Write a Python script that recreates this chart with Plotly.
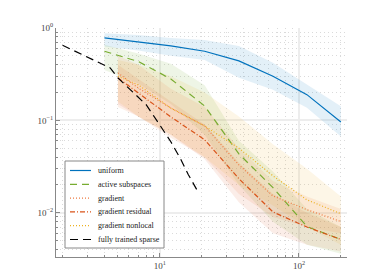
import plotly.graph_objects as go

# x grids
x_unif = [4, 7, 12, 21, 37, 65, 114, 200]
x_grad = [5, 7, 12, 21, 37, 65, 114, 200]
x_full = [2, 4.4, 5, 6, 8, 10, 12, 14, 16, 19]

# uniform
unif_mean = [0.78, 0.71, 0.64, 0.56, 0.44, 0.30, 0.19, 0.096]
unif_up = [0.88, 0.84, 0.78, 0.74, 0.64, 0.42, 0.245, 0.142]
unif_lo = [0.63, 0.57, 0.50, 0.45, 0.29, 0.215, 0.137, 0.067]

# active subspaces
as_mean = [0.56, 0.434, 0.281, 0.143, 0.0434, 0.0187, 0.0071, 0.00514]
as_up = [0.66, 0.53, 0.41, 0.24, 0.06, 0.028, 0.011, 0.0070]
as_lo = [0.35, 0.25, 0.15, 0.07, 0.02, 0.008, 0.0045, 0.0036]

# gradient
gr_mean = [0.326, 0.224, 0.136, 0.0872, 0.033, 0.0152, 0.0108, 0.00803]
gr_up = [0.50, 0.40, 0.22, 0.14, 0.05, 0.022, 0.015, 0.011]
gr_lo = [0.14, 0.11, 0.065, 0.04, 0.016, 0.009, 0.007, 0.006]

# gradient residual
gres_mean = [0.288, 0.198, 0.109, 0.0617, 0.0234, 0.0102, 0.0070, 0.00514]
gres_up = [0.40, 0.28, 0.16, 0.09, 0.035, 0.016, 0.010, 0.007]
gres_lo = [0.15, 0.11, 0.07, 0.038, 0.013, 0.006, 0.0045, 0.0038]

# gradient nonlocal
gnl_mean = [0.30, 0.242, 0.136, 0.087, 0.050, 0.0251, 0.0138, 0.00976]
gnl_up = [0.45, 0.40, 0.30, 0.20, 0.11, 0.055, 0.03, 0.015]
gnl_lo = [0.16, 0.11, 0.07, 0.04, 0.02, 0.012, 0.007, 0.0045]

# fully trained sparse
full_y = [0.65, 0.37, 0.288, 0.224, 0.147, 0.089, 0.0587, 0.039, 0.026, 0.0164]

# tick labels
x_tickvals = [10, 100]
x_ticktext = ["10<sup>1</sup>", "10<sup>2</sup>"]
y_tickvals = [1, 0.1, 0.01]
y_ticktext = ["10<sup>0</sup>", "10<sup>−1</sup>", "10<sup>−2</sup>"]
x_minor = [2, 3, 4, 5, 6, 7, 8, 9, 20, 30, 40, 50, 60, 70, 80, 90, 200]
y_minor = [0.004, 0.005, 0.006, 0.007, 0.008, 0.009,
           0.02, 0.03, 0.04, 0.05, 0.06, 0.07, 0.08, 0.09,
           0.2, 0.3, 0.4, 0.5, 0.6, 0.7, 0.8, 0.9]

series = [
    ("uniform", x_unif, unif_mean, unif_up, unif_lo, "#0072BD", "solid", "rgba(0,114,189,0.11)"),
    ("active subspaces", x_unif, as_mean, as_up, as_lo, "#77AC30", "7px,5px", "rgba(119,172,48,0.12)"),
    ("gradient", x_grad, gr_mean, gr_up, gr_lo, "#EE7A40", "1px,2px", "rgba(238,122,64,0.12)"),
    ("gradient residual", x_grad, gres_mean, gres_up, gres_lo, "#D95319", "5px,2px,1px,2px", "rgba(217,83,25,0.10)"),
    ("gradient nonlocal", x_grad, gnl_mean, gnl_up, gnl_lo, "#EDB120", "1px,2px", "rgba(237,177,32,0.11)"),
]
full_name = "fully trained sparse"
full_dash = "8px,5px"

fig = go.Figure()
for name, xs, m, up, lo, col, dash, fcol in series:
    fig.add_trace(go.Scatter(x=xs + xs[::-1], y=up + lo[::-1], fill="toself",
                             fillcolor=fcol, line=dict(width=0), mode="lines",
                             showlegend=False, hoverinfo="skip"))
for name, xs, m, up, lo, col, dash, fcol in series:
    fig.add_trace(go.Scatter(x=xs, y=m, mode="lines", name=name, showlegend=False,
                             line=dict(color=col, dash=dash, width=1.2)))
fig.add_trace(go.Scatter(x=x_full, y=full_y, mode="lines", name=full_name, showlegend=False,
                         line=dict(color="black", dash=full_dash, width=1.2)))

font = "Liberation Serif"
minor_common = dict(ticks="inside", ticklen=2, tickcolor="#888",
                    showgrid=True, gridcolor="#dadada", griddash="1px,3px", gridwidth=1)
axis_common = dict(type="log", showline=True, linecolor="#888", linewidth=1,
                   ticks="inside", ticklen=4, tickcolor="#888",
                   showgrid=True, gridcolor="#ededed", gridwidth=1.5,
                   zeroline=False, tickmode="array",
                   tickfont=dict(family=font, size=9, color="#444"))
fig.update_xaxes(range=[0.254, 2.345], tickvals=x_tickvals, ticktext=x_ticktext,
                 minor=dict(tickmode="array", tickvals=x_minor, **minor_common), **axis_common)
fig.update_yaxes(range=[-2.479, 0.0], tickvals=y_tickvals, ticktext=y_ticktext,
                 minor=dict(tickmode="array", tickvals=y_minor, **minor_common), **axis_common)

# custom compact legend (paper coordinates derived from pixel layout)
L, R, T, B = 48, 35, 20, 31
W, H = 374 - L - R, 280 - T - B
def px(x):
    return (x - L) / W
def py(y):
    return (280 - B - y) / H

shapes = [dict(type="rect", xref="paper", yref="paper",
               x0=px(57), x1=px(156), y0=py(240), y1=py(153),
               line=dict(color="#888", width=1), fillcolor="white", layer="above")]
annotations = []
legend_items = [(s[0], s[5], s[6]) for s in series] + [(full_name, "black", full_dash)]
for i, (name, col, dash) in enumerate(legend_items):
    yc = 162.5 + i * 13.8
    shapes.append(dict(type="line", xref="paper", yref="paper",
                       x0=px(62), x1=px(83), y0=py(yc), y1=py(yc),
                       line=dict(color=col, dash=dash, width=1.2), layer="above"))
    annotations.append(dict(xref="paper", yref="paper", x=px(87.5), y=py(yc),
                            text=name, showarrow=False, xanchor="left", yanchor="middle",
                            font=dict(family=font, size=8, color="#222")))

fig.update_layout(
    width=374, height=280,
    margin=dict(l=L, r=R, t=T, b=B),
    plot_bgcolor="white", paper_bgcolor="white",
    font=dict(family=font, size=8, color="#222"),
    showlegend=False,
    shapes=shapes, annotations=annotations,
)
fig.write_html("out.html")
